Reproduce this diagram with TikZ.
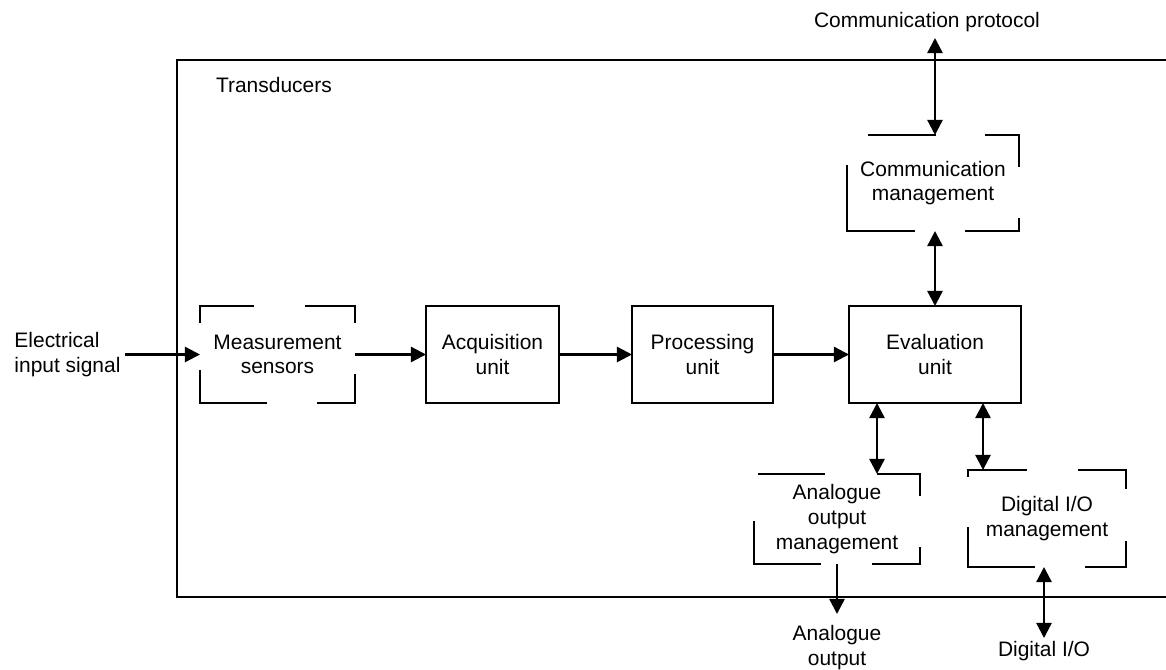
\documentclass[tikz,border=0pt]{standalone}
\usepackage{fontspec}
\setmainfont{Liberation Sans}
\usepackage{tikz}
\usetikzlibrary{arrows.meta, calc}
\tikzset{
  blkunit/.style = {draw, line width=1.4pt, minimum height=24.25mm,
                    align=center, inner sep=2pt, outer sep=0pt},
  blkgap/.style  = {minimum height=24.25mm,
                    align=center, inner sep=2pt, outer sep=0pt},
  gapline/.style = {line width=1.4pt},
  frameline/.style = {line width=1.4pt},
  flow/.style    = {-{Triangle[length=3.8mm, width=3.8mm]}, line width=1.7pt},
  biflow/.style  = {{Triangle[length=3.8mm, width=3.8mm]}-{Triangle[length=3.8mm, width=3.8mm]},
                    line width=1.7pt},
  txtlbl/.style  = {align=center, inner sep=2pt},
}

\begin{document}
\begin{tikzpicture}[x=0.25mm, y=-0.25mm, font=\fontsize{14.9}{17.5}\selectfont]
    \useasboundingbox (0,0) rectangle (1166,670);

    % Transducers frame
    \draw[frameline] (1170,60) -- (177,60) -- (177,597) -- (1170,597);
    \node[txtlbl, anchor=west] (title) at (213,85) {Transducers};

    \node[blkgap, minimum width=38.75mm]  (meas) at (277.5,354.5) {Measurement\\sensors};
    \node[blkunit, minimum width=33.25mm] (acq)  at (492.5,354.5) {Acquisition\\unit};
    \node[blkunit, minimum width=35.25mm] (proc) at (702.5,354.5) {Processing\\unit};
    \node[blkunit, minimum width=43mm]    (eval) at (935,354.5)   {Evaluation\\unit};
    \node[blkgap, minimum width=43mm, minimum height=24mm] (comm) at (933,183) {Communication\\management};
    \node[blkgap, minimum width=41.5mm, minimum height=22.5mm] (ana) at (837,519) {Analogue\\output\\management};
    \node[blkgap, minimum width=39.5mm] (dio) at (1047,518.5) {Digital I/O\\management};

    % outer labels
    \node[txtlbl, align=left, anchor=west, inner sep=3pt] (elec) at (10,354.5) {Electrical\\input signal};
    \node[txtlbl, anchor=south, inner sep=4pt] (cproto) at (927,38) {Communication protocol};
    \node[txtlbl, anchor=north, inner ysep=8pt] (aout) at (837,614) {Analogue\\output};
    \node[txtlbl, anchor=north, inner ysep=2.5pt] (dout) at (1044,638) {Digital I/O};

    % broken outlines
    \draw[gapline] ($(meas.north west)+(0,17)$) -- (meas.north west) -- ++(54,0);
    \draw[gapline] ($(meas.north east)+(-50,0)$) -- (meas.north east) -- ++(0,17);
    \draw[gapline] ($(meas.south east)+(0,-29)$) -- (meas.south east) -- ++(-38,0);
    \draw[gapline] ($(meas.south west)+(67,0)$) -- (meas.south west) -- ++(0,-33);

    \draw[gapline] ($(comm.north west)+(21,0)$) -- ++(68,0);
    \draw[gapline] ($(comm.north east)+(-34,0)$) -- (comm.north east) -- ++(0,32);
    \draw[gapline] ($(comm.north west)+(0,30)$) -- (comm.south west) -- ++(68,0);
    \draw[gapline] ($(comm.south east)+(-54,0)$) -- (comm.south east) -- ++(0,-13);

    \draw[gapline] ($(ana.north west)+(4,0)$) -- ++(67,0);
    \draw[gapline] ($(ana.north east)+(-43,0)$) -- (ana.north east) -- ++(0,22);
    \draw[gapline] ($(ana.south west)+(0,-43)$) -- (ana.south west) -- ++(67,0);
    \draw[gapline] ($(ana.south east)+(-48,0)$) -- (ana.south east) -- ++(0,-17);

    \draw[gapline] ($(dio.north west)+(0,7)$) -- (dio.north west) -- ++(59,0);
    \draw[gapline] ($(dio.north east)+(-48,0)$) -- (dio.north east) -- ++(0,19);
    \draw[gapline] ($(dio.south east)+(0,-26)$) -- (dio.south east) -- ++(-41,0);
    \draw[gapline] ($(dio.south west)+(67,0)$) -- (dio.south west) -- ++(0,-40);

    % signal path
    \draw[flow] (elec) -- (meas);
    \draw[flow] (meas) -- (acq);
    \draw[flow] (acq) -- (proc);
    \draw[flow] (proc) -- (eval);

    \coordinate (evA) at ($(eval.south west)+(28,0)$);
    \coordinate (evD) at ($(eval.south east)+(-38,0)$);
    \draw[biflow] (cproto.south -| eval.north) -- (comm.north -| eval.north);
    \draw[biflow] (comm.south -| eval.north) -- (eval.north);
    \draw[biflow] (evA) -- (evA |- ana.north);
    \draw[biflow] (evD) -- (evD |- dio.north);
    \draw[flow] (ana.south) -- (aout.north);
    \draw[biflow] (dio.south -| dout.north) -- (dout.north);
\end{tikzpicture}
\end{document}
